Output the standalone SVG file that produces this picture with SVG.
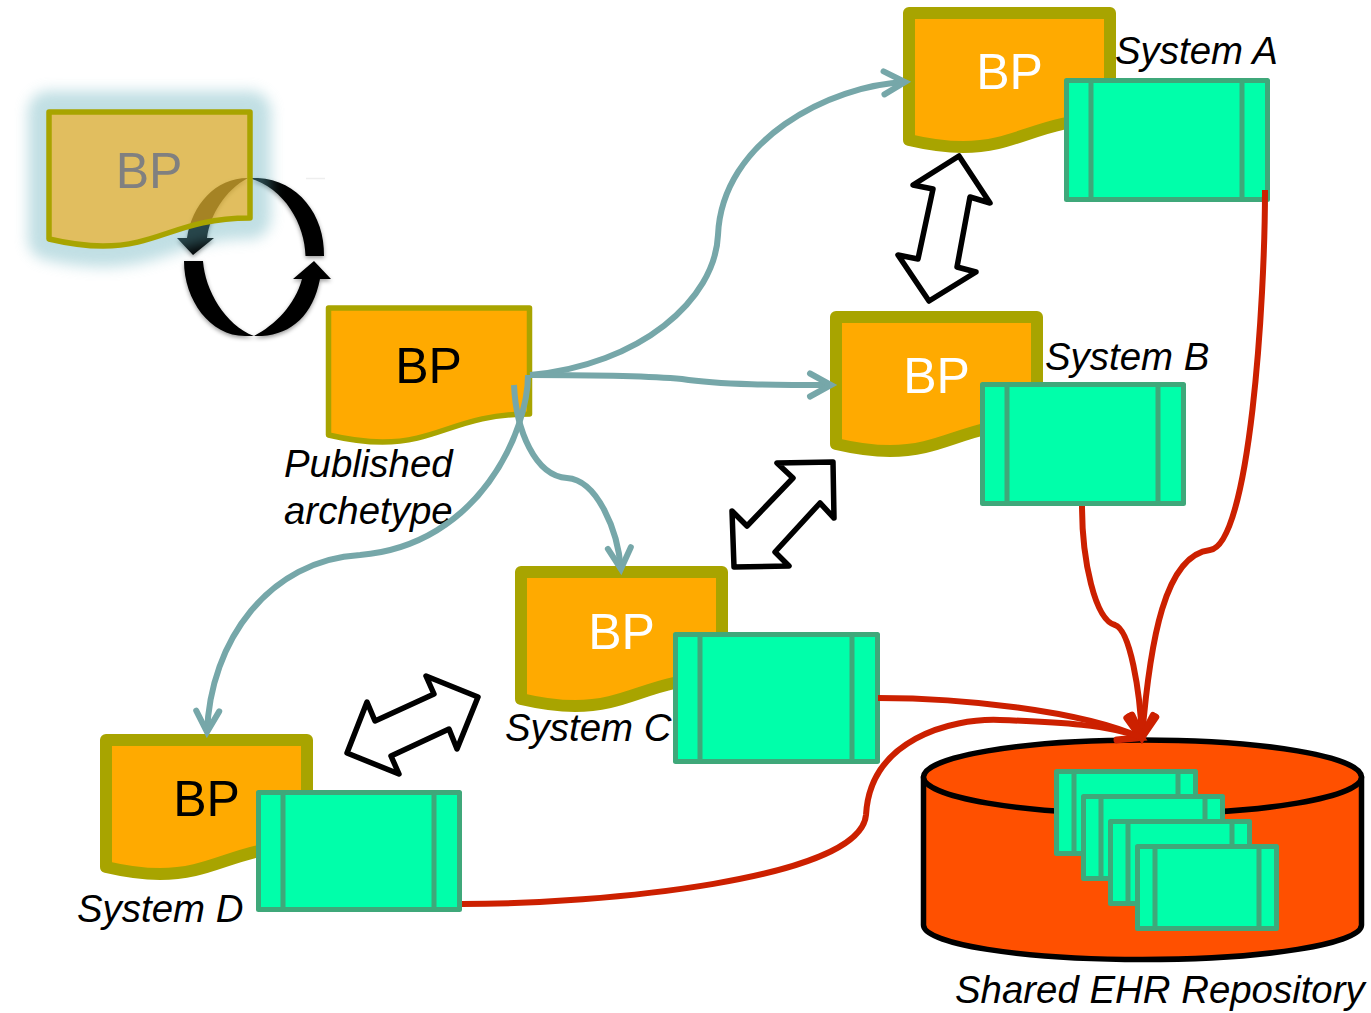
<svg xmlns="http://www.w3.org/2000/svg" xmlns:xlink="http://www.w3.org/1999/xlink" width="1371" height="1013" viewBox="0 0 1371 1013">
<style>
text{font-family:"Liberation Sans",Arial,sans-serif}
.bp{font-size:50px;text-anchor:middle}
.lab{font-size:38.400px;font-style:italic;fill:#000}
.doc{fill:#ffaa00;stroke:#a8a400;stroke-width:12;stroke-linejoin:round}
.docthin{stroke-width:5.5}
.rec{fill:#00ffaa;stroke:#3fa87a;stroke-width:5;stroke-linejoin:round}
.bar{fill:none;stroke:#3fa87a;stroke-width:5}
.dbl{fill:#fff;stroke:#000;stroke-width:5.5;stroke-linejoin:round}
.teal{fill:none;stroke:#76a7a9;stroke-width:6;stroke-linecap:butt}
.red{fill:none;stroke:#cc2000;stroke-width:6}
.cyl{fill:#ff5000;stroke:#000;stroke-width:5.5;stroke-linejoin:round}
</style>
<defs>
<path id="docshape" d="M0,0H201V106C130,106 110,134 54,134C32,134 17,131 0,127Z"/>
<filter id="glow" filterUnits="userSpaceOnUse" x="0" y="50" width="320" height="260"><feGaussianBlur stdDeviation="7"/></filter>
<filter id="shadow" x="-20%" y="-20%" width="140%" height="140%"><feDropShadow dx="0" dy="2" stdDeviation="2" flood-color="#000" flood-opacity=".4"/></filter>
<marker id="headT" markerUnits="userSpaceOnUse" markerWidth="30" markerHeight="30" refX="25" refY="15" orient="auto" overflow="visible"><path d="M3,3.500L24,15L3,26.500" fill="none" stroke="#76a7a9" stroke-width="6" stroke-linecap="round" stroke-linejoin="miter"/></marker>
<marker id="headR" markerUnits="userSpaceOnUse" markerWidth="30" markerHeight="30" refX="25" refY="15" orient="auto" overflow="visible"><path d="M3,3L24,15L3,27" fill="none" stroke="#cc2000" stroke-width="7" stroke-linecap="round" stroke-linejoin="miter"/></marker>
</defs>

<g id="cycle" filter="url(#shadow)" fill="#000">
<path d="M248,178C215,178 192,205 187,238H177L193,255L214,238H207C210,215 225,190 248,178Z"/>
<path d="M249,178H258C298,180 325,215 324,256H305.500C305,225 285,188 249,178Z"/>
<path d="M184,261H203C205,290 225,325 254,336H245C210,336 184,300 184,261Z"/>
<path d="M254,336H262C292,334 313,315 320,279H331L314,261L293,279H302C295,305 275,325 254,336Z"/>
</g>
<path id="fade-line" d="M306,178.500H325" stroke="#eee" stroke-width="1.500" fill="none"/>

<g id="node-draft">
<path d="M49,112H250V218C179,218 159,246 103,246C81,246 66,243 49,239Z" fill="#64afbb" stroke="#64afbb" stroke-width="42" stroke-linejoin="round" opacity=".4" filter="url(#glow)"/>
<use xlink:href="#docshape" x="49" y="112" fill="#f5aa0b" fill-opacity=".61" stroke="none"/>
<use xlink:href="#docshape" x="49" y="112" fill="none" stroke="#a8a400" stroke-width="5.5" stroke-linejoin="round"/>
<text class="bp" x="149" y="188" fill="#808080">BP</text>
</g>

<g id="node-published">
<use xlink:href="#docshape" class="doc docthin" x="328.500" y="308"/>
<text class="bp" x="428.500" y="383" fill="#000">BP</text>
<text class="lab" x="284" y="477">Published</text>
<text class="lab" x="284" y="524">archetype</text>
</g>

<g id="node-system-a">
<use xlink:href="#docshape" class="doc" x="909" y="13"/>
<text class="bp" x="1009.500" y="89" fill="#fff">BP</text>
<text class="lab" x="1115" y="64">System A</text>
<rect class="rec" x="1066.500" y="80.500" width="201" height="119"/>
<path class="bar" d="M1091,80.500V199.500M1242,80.500V199.500"/>
</g>

<g id="node-system-b">
<use xlink:href="#docshape" class="doc" x="836" y="317"/>
<text class="bp" x="936.500" y="393" fill="#fff">BP</text>
<text class="lab" x="1045" y="370">System B</text>
<rect class="rec" x="982.500" y="384.500" width="201" height="119"/>
<path class="bar" d="M1007,384.500V503.500M1158,384.500V503.500"/>
</g>

<g id="node-system-c">
<use xlink:href="#docshape" class="doc" x="521" y="572"/>
<text class="bp" x="621.500" y="649" fill="#fff">BP</text>
<text class="lab" x="505" y="741">System C</text>
<rect class="rec" x="675.500" y="634.500" width="202" height="127"/>
<path class="bar" d="M700,634.500V761.500M852,634.500V761.500"/>
</g>

<g id="node-system-d">
<use xlink:href="#docshape" class="doc" x="106" y="740"/>
<text class="bp" x="206.500" y="816" fill="#000">BP</text>
<text class="lab" x="77" y="922">System D</text>
<rect class="rec" x="258.500" y="792.500" width="201" height="117"/>
<path class="bar" d="M283,792.500V909.500M434,792.500V909.500"/>
</g>

<g id="node-repository">
<path class="cyl" d="M923.500,777V925C923.500,944 1021,959.500 1142.500,959.500C1264,959.500 1361.500,944 1361.500,925V777Z"/>
<ellipse class="cyl" cx="1142.500" cy="777" rx="219" ry="37"/>
<g id="record-1"><rect class="rec" x="1056.500" y="771.500" width="139" height="82"/><path class="bar" d="M1074,771.500V853.500M1178,771.500V853.500"/></g>
<g id="record-2"><rect class="rec" x="1083.500" y="796.500" width="139" height="82"/><path class="bar" d="M1101,796.500V878.500M1205,796.500V878.500"/></g>
<g id="record-3"><rect class="rec" x="1110.500" y="821.500" width="139" height="82"/><path class="bar" d="M1128,821.500V903.500M1232,821.500V903.500"/></g>
<g id="record-4"><rect class="rec" x="1137.500" y="846.500" width="139" height="82"/><path class="bar" d="M1155,846.500V928.500M1259,846.500V928.500"/></g>
<text class="lab" x="955" y="1003">Shared EHR Repository</text>
</g>

<g id="exchange-arrows">
<path class="dbl" d="M959,156L990,203L970,197L957,267L976,272L929,301L898,255L918,259L933,189L913,185Z"/>
<path class="dbl" d="M833,462L834,518L820,503L775,552L789,566L734,567L732,511L747,526L793,478L777,463Z"/>
<path class="dbl" d="M478,697L457,749L449,729L391,756L399,774L347,753L367,702L375,721L434,694L426,676Z"/>
</g>

<g id="connectors">
<path class="teal" marker-end="url(#headT)" d="M530,375C640,365 715,300 718,235C722,140 830,85 906,82"/>
<path class="teal" marker-end="url(#headT)" d="M530,375C590,375 650,376 682,379C720,385 780,385 832,385"/>
<path class="teal" marker-end="url(#headT)" d="M514,385C516,430 535,476 567,478C597,480 618,530 621,570"/>
<path class="teal" marker-end="url(#headT)" d="M528,375C528,430 480,545 360,555C270,560 210,640 207,733"/>
<path class="red" marker-end="url(#headR)" d="M1265,190C1265,300 1250,545 1210,550C1165,555 1150,640 1142,738"/>
<path class="red" marker-end="url(#headR)" d="M1082,506C1082,560 1095,620 1115,625C1130,630 1140,690 1142,738"/>
<path class="red" marker-end="url(#headR)" d="M878,698C960,698 1080,710 1142,738"/>
<path class="red" d="M462,904C600,904 860,880 866,815C870,740 950,718 1000,720C1060,722 1110,725 1142,738"/>
</g>
</svg>
